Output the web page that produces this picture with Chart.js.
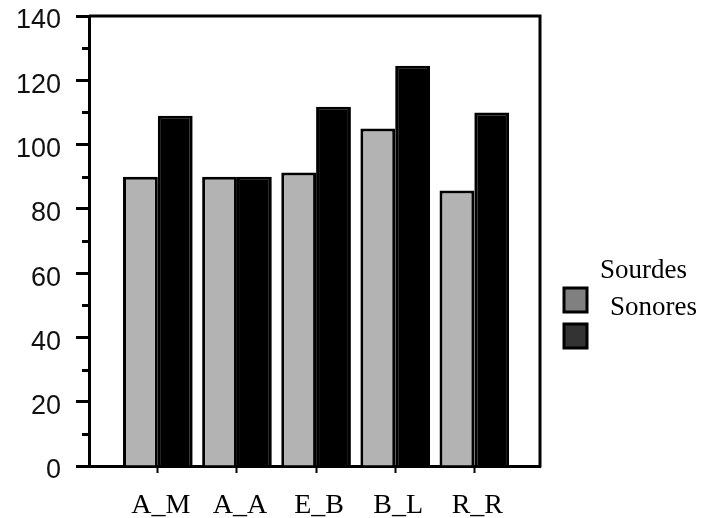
<!DOCTYPE html>
<html>
<head>
<meta charset="utf-8">
<script src="https://cdn.jsdelivr.net/npm/chart.js@4.4.1/dist/chart.umd.min.js"></script>
<style>
  html, body { margin: 0; padding: 0; background: #fff; }
  #wrap { position: relative; width: 704px; height: 518px; }
</style>
</head>
<body>
<div id="wrap"><canvas id="barChart" width="704" height="518"></canvas></div>
<script>
/* data */
const categories = ['A_M', 'A_A', 'E_B', 'B_L', 'R_R'];
const sourdes = [90, 90, 91.3, 105, 85.7];
const sonores = [109, 90, 111.8, 124.5, 110];
const seriesNames = ['Sourdes', 'Sonores'];
const yMin = 0, yMax = 140, yStep = 20, yMinorStep = 10;

/* legend swatches in the reference are not the bar colours */
const legendColors = ['#808080', '#333333'];

/* frame: top and right edges of the plot box */
const framePlugin = {
  id: 'frame',
  afterDraw(chart) {
    const a = chart.chartArea, ctx = chart.ctx;
    ctx.save();
    ctx.strokeStyle = '#000';
    ctx.lineWidth = 3;
    ctx.beginPath();
    ctx.moveTo(a.left, a.top);
    ctx.lineTo(a.right, a.top);
    ctx.lineTo(a.right, a.bottom + 1.5);
    ctx.stroke();
    ctx.restore();
  }
};

/* short minor ticks on the y axis */
const minorTicks = {
  id: 'minorTicks',
  afterDraw(chart) {
    const y = chart.scales.y, ctx = chart.ctx;
    const x0 = chart.chartArea.left;
    ctx.save();
    ctx.strokeStyle = '#000';
    ctx.lineWidth = 3;
    for (let v = yMin + yMinorStep; v < yMax; v += yStep) {
      const py = Math.round(y.getPixelForValue(v)) + 0.5;
      ctx.beginPath();
      ctx.moveTo(x0 - 7, py);
      ctx.lineTo(x0, py);
      ctx.stroke();
    }
    ctx.restore();
  }
};

/* legend drawn the way the reference has it (labels sit offset from boxes) */
const oddLegend = {
  id: 'oddLegend',
  afterDraw(chart) {
    const ctx = chart.ctx;
    ctx.save();
    ctx.font = '27px "Liberation Serif", "Times New Roman", serif';
    ctx.fillStyle = '#000';
    ctx.textBaseline = 'alphabetic';
    ctx.fillText(seriesNames[0], 600, 278);
    ctx.fillText(seriesNames[1], 610, 315);
    const boxes = [[564, 288], [564, 324]];
    boxes.forEach((b, i) => {
      ctx.fillStyle = legendColors[i];
      ctx.fillRect(b[0], b[1], 23, 24);
      ctx.lineWidth = 3;
      ctx.strokeStyle = '#000';
      ctx.strokeRect(b[0], b[1], 23, 24);
    });
    ctx.restore();
  }
};

(function(){
  const canvas = document.getElementById('barChart');
  if(!canvas) return;
  const ctx = canvas.getContext('2d');
  const toPoints = arr => arr.map((v, i) => ({ x: i + 1, y: v }));

  new Chart(ctx, {
    type: 'bar',
    data: {
      datasets: [
        {
          label: seriesNames[0],
          data: toPoints(sourdes),
          backgroundColor: '#b3b3b3',
          borderColor: '#000',
          borderWidth: 3,
          categoryPercentage: 0.88,
          barPercentage: 1.0
        },
        {
          label: seriesNames[1],
          data: toPoints(sonores),
          backgroundColor: '#000',
          borderColor: '#000',
          borderWidth: 3,
          categoryPercentage: 0.88,
          barPercentage: 1.0
        }
      ]
    },
    options: {
      responsive: false,
      animation: false,
      layout: { padding: { top: 16, right: 164, left: 0, bottom: 0 } },
      plugins: {
        legend: { display: false },
        tooltip: { enabled: false }
      },
      scales: {
        x: {
          type: 'linear',
          offset: false,
          min: 0.13,
          max: 5.83,
          afterBuildTicks(scale) {
            scale.ticks = categories.map((c, i) => ({ value: i + 1 }));
          },
          afterFit(scale) {
            scale.height = 52;
            scale.paddingLeft = 0;
            scale.paddingRight = 0;
          },
          ticks: {
            autoSkip: false,
            maxRotation: 0,
            padding: 16,
            labelOffset: 3,
            color: '#000',
            font: { family: '"Liberation Serif", "Times New Roman", serif', size: 28 },
            callback: v => categories[v - 1] || ''
          },
          grid: {
            offset: false,
            drawOnChartArea: false,
            tickLength: 7,
            tickWidth: 2,
            tickColor: '#000'
          },
          border: { color: '#000', width: 3 }
        },
        y: {
          min: yMin,
          max: yMax,
          afterFit(scale) {
            scale.width = 89;
            scale.paddingTop = 0;
            scale.paddingBottom = 0;
          },
          ticks: {
            stepSize: yStep,
            padding: 15,
            labelOffset: 5,
            color: '#111',
            font: { family: '"Liberation Sans", Arial, sans-serif', size: 27 }
          },
          grid: {
            drawOnChartArea: false,
            tickLength: 13,
            tickWidth: 3,
            tickColor: '#000'
          },
          border: { color: '#000', width: 3 }
        }
      }
    },
    plugins: [framePlugin, minorTicks, oddLegend]
  });
})();
</script>
</body>
</html>
